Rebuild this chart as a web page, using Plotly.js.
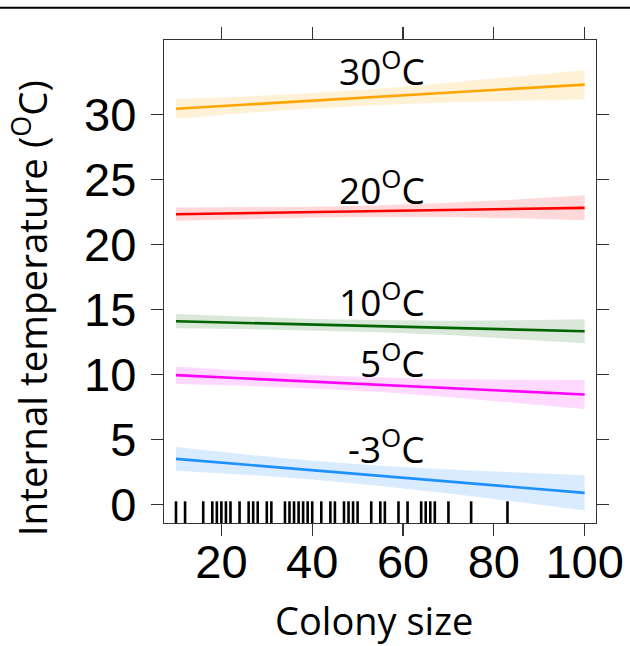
<!DOCTYPE html>
<html>
<head>
<meta charset="utf-8">
<script src="https://cdn.plot.ly/plotly-3.0.1.min.js"></script>
<style>html,body{margin:0;padding:0;background:#fff;}#chart{width:630px;height:646px;}</style>
</head>
<body>
<div id="chart"></div>
<script>
// Colony sizes at which the fitted lines are read
const colonySize = [10, 25, 40, 55, 70, 85, 100];

// Fitted internal temperature and 95% band, per ambient temperature
const fit30 = [30.44, 30.75, 31.06, 31.37, 31.68, 31.99, 32.30];
const hi30  = [31.20, 31.39, 31.65, 32.00, 32.44, 32.92, 33.43];
const lo30  = [29.68, 30.11, 30.47, 30.74, 30.92, 31.06, 31.17];

const fit20 = [22.33, 22.41, 22.49, 22.57, 22.66, 22.74, 22.82];
const hi20  = [22.84, 22.86, 22.91, 23.02, 23.21, 23.46, 23.78];
const lo20  = [21.82, 21.96, 22.07, 22.12, 22.11, 22.02, 21.86];

const fit10 = [14.10, 13.97, 13.84, 13.72, 13.59, 13.46, 13.33];
const hi10  = [14.65, 14.44, 14.28, 14.19, 14.14, 14.18, 14.26];
const lo10  = [13.55, 13.50, 13.40, 13.25, 13.04, 12.74, 12.40];

const fit5  = [9.95, 9.70, 9.45, 9.21, 8.96, 8.71, 8.46];
const hi5   = [10.62, 10.27, 9.97, 9.77, 9.64, 9.59, 9.58];
const lo5   = [9.28, 9.13, 8.93, 8.65, 8.28, 7.83, 7.34];

const fitM3 = [3.51, 3.08, 2.64, 2.21, 1.77, 1.34, 0.90];
const hiM3  = [4.43, 3.86, 3.36, 2.99, 2.70, 2.46, 2.26];
const loM3  = [2.59, 2.30, 1.92, 1.43, 0.84, 0.22, -0.46];

// Observed colony sizes (rug)
const rugSizes = [10,12,16,18,19,20,21,22,24,26,27,28,30,31,34,35,36,37,38,39,40,42,44,45,47,48,49,50,53,55,56,59,61,64,65,66,67,70,75,83];

// Labels
const seriesLabels = ["30<sup>O</sup>C", "20<sup>O</sup>C", "10<sup>O</sup>C", "5<sup>O</sup>C", "-3<sup>O</sup>C"];
const xTicks = [20, 40, 60, 80, 100];
const yTicks = [0, 5, 10, 15, 20, 25, 30];
const xTitle = "Colony size";
const yTitle = "Internal temperature (<sup>O</sup>C)";

const series = [
  {fit: fit30, hi: hi30, lo: lo30, line: "#FFA500", band: "rgba(255,165,0,0.16)", ly: 33.5},
  {fit: fit20, hi: hi20, lo: lo20, line: "#FF0000", band: "rgba(255,0,0,0.15)", ly: 24.35},
  {fit: fit10, hi: hi10, lo: lo10, line: "#006400", band: "rgba(0,100,0,0.15)", ly: 15.8},
  {fit: fit5,  hi: hi5,  lo: lo5,  line: "#FF00FF", band: "rgba(255,0,255,0.15)", ly: 11.1},
  {fit: fitM3, hi: hiM3, lo: loM3, line: "#1E90FF", band: "rgba(30,144,255,0.17)", ly: 4.5}
];

const traces = [];
series.forEach(s => {
  traces.push({
    x: colonySize.concat(colonySize.slice().reverse()),
    y: s.hi.concat(s.lo.slice().reverse()),
    type: "scatter", mode: "lines", fill: "toself",
    fillcolor: s.band, line: {width: 0}, hoverinfo: "skip", showlegend: false
  });
});
series.forEach(s => {
  traces.push({
    x: colonySize, y: s.fit, type: "scatter", mode: "lines",
    line: {color: s.line, width: 2.6}, showlegend: false
  });
});
traces.push({
  x: rugSizes, y: rugSizes.map(() => -0.72), type: "scatter", mode: "markers",
  marker: {symbol: "line-ns-open", size: 18, color: "#000", line: {color: "#000", width: 2.6}},
  showlegend: false, hoverinfo: "x"
});

const annotations = series.map((s, i) => ({
  x: 65.3, y: s.ly, xref: "x", yref: "y", xanchor: "right", yanchor: "middle",
  text: seriesLabels[i], showarrow: false,
  font: {family: "Open Sans", size: 37, color: "#000"}
}));
annotations.push({
  x: -0.31, y: 0.445, xref: "paper", yref: "paper", xanchor: "center", yanchor: "middle",
  textangle: -90, text: yTitle, showarrow: false,
  font: {family: "Open Sans", size: 38.5, color: "#000"}
});
annotations.push({
  x: 0.486, y: -0.143, xref: "paper", yref: "paper", xanchor: "center", yanchor: "top",
  text: xTitle, showarrow: false,
  font: {family: "Open Sans", size: 38, color: "#000"}
});

const layout = {
  width: 630, height: 646,
  margin: {l: 164, r: 34, t: 40, b: 123},
  paper_bgcolor: "#fff", plot_bgcolor: "#fff",
  showlegend: false,
  xaxis: {
    range: [7.36, 102.5], tickvals: xTicks, ticktext: xTicks.map(String),
    ticks: "outside", ticklen: 12, tickwidth: 1.3, tickcolor: "#333",
    showline: true, linecolor: "#333", linewidth: 1.3, mirror: "ticks",
    showgrid: false, zeroline: false, ticklabelstandoff: -15,
    tickfont: {family: "Liberation Sans", size: 47, color: "#000"}
  },
  yaxis: {
    range: [-1.42, 35.73], tickvals: yTicks, ticktext: yTicks.map(String),
    ticks: "outside", ticklen: 12, tickwidth: 1.3, tickcolor: "#333",
    showline: true, linecolor: "#333", linewidth: 1.3, mirror: "ticks",
    showgrid: false, zeroline: false, ticklabelstandoff: 5,
    tickfont: {family: "Liberation Sans", size: 47, color: "#000"}
  },
  annotations: annotations,
  shapes: [{type: "line", xref: "paper", yref: "paper", x0: -0.5, x1: 1.2, y0: 1.067, y1: 1.067, line: {color: "#000", width: 2}}]
};

Plotly.newPlot("chart", traces, layout, {displayModeBar: false, staticPlot: true});
</script>
</body>
</html>
